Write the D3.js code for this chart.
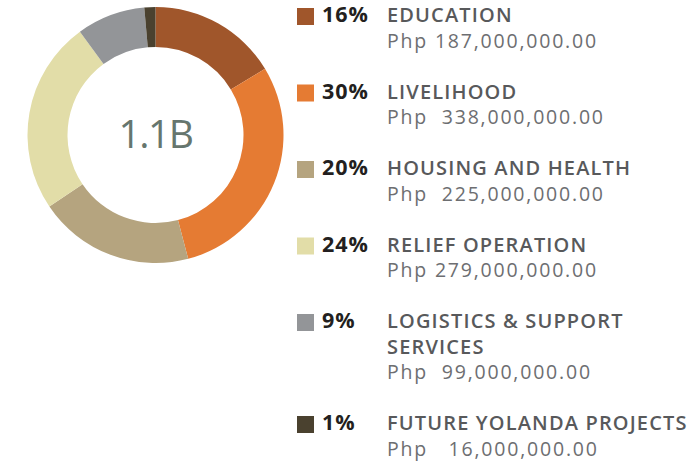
<!DOCTYPE html>
<html>
<head>
  <meta charset="utf-8">
  <script src="https://d3js.org/d3.v7.min.js"></script>
  <style>
    body { margin: 0; background: #fff; }
    svg text { font-family: "Open Sans", sans-serif; }
    .pct { font-weight: 700; fill: #231f20; font-size: 21.5px; letter-spacing: 1px; }
    .cat { font-weight: 600; fill: #58595b; font-size: 20px; letter-spacing: 1.15px; }
    .amt { font-weight: 400; fill: #6d6e71; font-size: 19.5px; letter-spacing: 1.8px; white-space: pre; }
  </style>
</head>
<body>
  <svg id="chart" width="696" height="461"></svg>
  <script>
    // data
    const categories = ["EDUCATION", "LIVELIHOOD", "HOUSING AND HEALTH", "RELIEF OPERATION",
      "LOGISTICS & SUPPORT SERVICES", "FUTURE YOLANDA PROJECTS"];
    const labelLines = [["EDUCATION"], ["LIVELIHOOD"], ["HOUSING AND HEALTH"], ["RELIEF OPERATION"],
      ["LOGISTICS & SUPPORT", "SERVICES"], ["FUTURE YOLANDA PROJECTS"]];
    const values = [187, 338, 225, 279, 99, 16]; // millions of Php
    const percents = ["16%", "30%", "20%", "24%", "9%", "1%"];
    const amounts = ["Php 187,000,000.00", "Php  338,000,000.00", "Php  225,000,000.00",
      "Php 279,000,000.00", "Php  99,000,000.00", "Php   16,000,000.00"];
    const colors = ["#a0562b", "#e57b33", "#b5a47f", "#e2dda8", "#939598", "#4a412f"];
    const total = "1.1B";

    const svg = d3.select("#chart");

    // donut
    const cx = 155.5, cy = 135, outerR = 128, innerR = 88;
    const pie = d3.pie().sort(null).value(d => d);
    const arc = d3.arc().innerRadius(innerR).outerRadius(outerR);
    const donut = svg.append("g").attr("transform", `translate(${cx},${cy})`);

    donut.selectAll("path").data(pie(values))
      .join("path")
      .attr("d", arc)
      .attr("fill", (d, i) => colors[i]);

    donut.append("text")
      .attr("text-anchor", "middle")
      .attr("y", 13)
      .attr("fill", "#66766e")
      .attr("font-size", 39)
      .attr("letter-spacing", -1.5)
      .text(total);

    // legend
    const lineH = 25.5;
    let y = 22;
    const rows = categories.map((c, i) => {
      const r = { i, y };
      y += (labelLines[i].length + 2) * lineH;
      return r;
    });

    const legend = svg.append("g");
    const row = legend.selectAll("g.row").data(rows)
      .join("g")
      .attr("class", "row")
      .attr("transform", d => `translate(0,${d.y})`);

    row.append("rect")
      .attr("x", 297).attr("y", -14)
      .attr("width", 17).attr("height", 17)
      .attr("fill", d => colors[d.i]);

    row.append("text")
      .attr("class", "pct")
      .attr("x", 322)
      .text(d => percents[d.i]);

    row.each(function (d) {
      const g = d3.select(this);
      labelLines[d.i].forEach((line, k) => {
        g.append("text").attr("class", "cat")
          .attr("x", 387).attr("y", k * lineH)
          .text(line);
      });
      g.append("text").attr("class", "amt")
        .attr("x", 387).attr("y", labelLines[d.i].length * lineH)
        .text(amounts[d.i]);
    });
  </script>
</body>
</html>
